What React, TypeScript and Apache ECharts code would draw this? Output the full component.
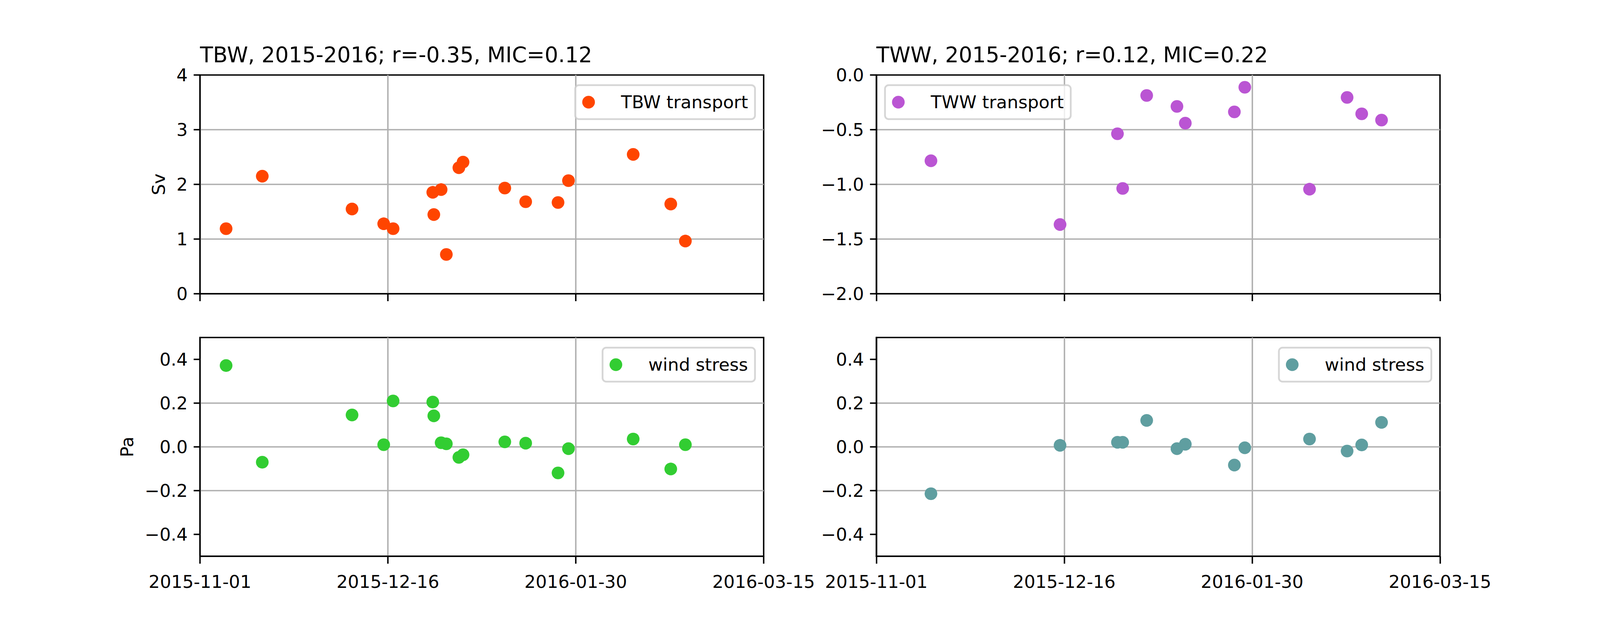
import { useRef, useEffect } from "react";
import * as echarts from "echarts";

// TBW (left column): transport and wind stress share the same dates
const tbwDates = [
  "2015-11-07 06:00", "2015-11-15 22:00", "2015-12-07 10:00", "2015-12-15 00:00",
  "2015-12-17 06:00", "2015-12-26 18:00", "2015-12-27 00:00", "2015-12-28 18:00",
  "2015-12-30 00:00", "2016-01-02 00:00", "2016-01-03 00:00", "2016-01-13 00:00",
  "2016-01-18 00:00", "2016-01-25 18:00", "2016-01-28 06:00", "2016-02-12 18:00",
  "2016-02-21 18:00", "2016-02-25 06:00",
];
const tbwTransport = [
  1.19, 2.15, 1.55, 1.28, 1.19, 1.855, 1.448, 1.905, 0.719,
  2.305, 2.407, 1.933, 1.683, 1.669, 2.069, 2.548, 1.641, 0.964,
];
const tbwWind = [
  0.372, -0.07, 0.146, 0.01, 0.21, 0.205, 0.142, 0.019, 0.014,
  -0.048, -0.036, 0.023, 0.017, -0.119, -0.008, 0.036, -0.101, 0.01,
];

// TWW (right column)
const twwDates = [
  "2015-11-14 02:00", "2015-12-15 00:00", "2015-12-28 18:00", "2015-12-30 00:00",
  "2016-01-04 18:00", "2016-01-12 00:00", "2016-01-14 00:00", "2016-01-25 18:00",
  "2016-01-28 06:00", "2016-02-12 18:00", "2016-02-21 18:00", "2016-02-25 06:00",
  "2016-03-01 00:00",
];
const twwTransport = [
  -0.784, -1.367, -0.537, -1.037, -0.187, -0.287, -0.44,
  -0.337, -0.112, -1.044, -0.205, -0.355, -0.412,
];
const twwWind = [
  -0.214, 0.007, 0.021, 0.021, 0.121, -0.008, 0.012,
  -0.083, -0.004, 0.036, -0.019, 0.009, 0.112,
];

const xStart = "2015-11-01 00:00";
const xEnd = "2016-03-15 00:00";
const xStepDays = 45;
const windTicks = [-0.4, -0.2, 0, 0.2, 0.4];

const titles = ["TBW, 2015-2016; r=-0.35, MIC=0.12", "TWW, 2015-2016; r=0.12, MIC=0.22"];

const FONT = "DejaVu Sans";
const DAY = 86400000;
// layout designed on a 4800x1600 canvas, scaled to the real container
const REF_W = 4800;
const REF_H = 1600;

function toTs(s: string) {
  return Date.parse(s.replace(" ", "T") + ":00Z");
}

function fmtDate(v: number) {
  return new Date(v).toISOString().slice(0, 10);
}

function fmtNum(v: number, digits: number) {
  if (Math.abs(v) < 1e-9) return (0).toFixed(digits);
  return v.toFixed(digits).replace("-", "\u2212");
}

const grids = [
  { left: 600, top: 192 },
  { left: 2629, top: 192 },
  { left: 600, top: 864 },
  { left: 2629, top: 864 },
];

export default function App() {
  const chartRef = useRef<HTMLDivElement>(null);

  useEffect(() => {
    document.body.style.margin = "0";
    const el = chartRef.current;
    if (!el) return;
    const W = el.clientWidth || REF_W;
    const H = el.clientHeight || REF_H;
    const sx = W / REF_W;
    const sy = H / REF_H;
    const X = (v: number) => v * sx;
    const Y = (v: number) => v * sy;

    const chart = echarts.init(el, undefined, { renderer: "svg" });

    const tMin = toTs(xStart);
    const tMax = toTs(xEnd);
    const LW = X(4.3);
    const fs = X(53);
    const titleFs = X(64);

    const labelStyle = { color: "#000", fontSize: fs, fontFamily: FONT };
    const splitStyle = { color: "#b0b0b0", width: LW };
    const tickStyle = { color: "#000", width: LW };

    const xAxis = grids.map((_, i) => ({
      type: "value",
      gridIndex: i,
      min: tMin,
      max: tMax,
      interval: xStepDays * DAY,
      axisLine: { show: true, onZero: false, lineStyle: tickStyle },
      axisTick: { show: true, length: Y(19), lineStyle: tickStyle },
      axisLabel: {
        show: i >= 2,
        margin: Y(81) - 0.846 * fs,
        formatter: (v: number) => fmtDate(v),
        showMinLabel: true,
        showMaxLabel: true,
        ...labelStyle,
      },
      splitLine: { show: true, showMinLine: false, showMaxLine: false, lineStyle: splitStyle },
    }));

    const yBase = (i: number) => ({
      type: "value",
      gridIndex: i,
      axisLine: { show: true, onZero: false, lineStyle: tickStyle },
      axisTick: { show: true, length: X(19), lineStyle: tickStyle },
      splitLine: { show: true, showMinLine: false, showMaxLine: false, lineStyle: splitStyle },
      nameLocation: "middle",
      nameMoveOverlap: false,
      nameTextStyle: labelStyle,
    });

    const yAxis = [
      {
        ...yBase(0),
        min: 0,
        max: 4,
        interval: 1,
        name: "Sv",
        nameGap: X(97),
        axisLabel: { margin: X(37), formatter: (v: number) => String(v), ...labelStyle },
      },
      {
        ...yBase(1),
        min: -2,
        max: 0,
        interval: 0.5,
        axisLabel: { margin: X(37), formatter: (v: number) => fmtNum(v, 1), ...labelStyle },
      },
      ...[2, 3].map((i) => ({
        ...yBase(i),
        min: -0.5,
        max: 0.5,
        splitNumber: 5,
        name: i === 2 ? "Pa" : "",
        nameGap: X(192),
        axisTick: { show: true, length: X(19), customValues: windTicks, lineStyle: tickStyle },
        axisLabel: { margin: X(37), customValues: windTicks, formatter: (v: number) => fmtNum(v, 1), ...labelStyle },
      })),
    ];

    const mkSeries = (name: string, idx: number, dates: string[], vals: number[], color: string) => ({
      name,
      type: "scatter",
      xAxisIndex: idx,
      yAxisIndex: idx,
      symbol: "circle",
      symbolSize: X(38),
      itemStyle: { color, opacity: 1 },
      data: dates.map((d, k) => [toTs(d), vals[k]]),
    });

    const legendBase = {
      orient: "horizontal",
      selectedMode: false,
      icon: "circle",
      itemWidth: X(107),
      itemHeight: X(38),
      padding: [Y(21), X(21), Y(21), X(21)],
      backgroundColor: "rgba(255,255,255,0.8)",
      borderColor: "rgba(204,204,204,0.8)",
      borderWidth: X(5.3),
      borderRadius: X(11),
      formatter: (name: string) => `{t|${name.split("|")[0]}}`,
      textStyle: {
        rich: {
          t: { padding: [0, 0, 0, X(38)], fontSize: fs, fontFamily: FONT, color: "#000", lineHeight: Y(60) },
        },
      },
    };

    chart.setOption({
      animation: false,
      backgroundColor: "#fff",
      textStyle: { fontFamily: FONT },
      title: titles.map((t, i) => ({
        text: t,
        left: X(grids[i].left),
        top: Y(159) - 0.846 * titleFs,
        padding: 0,
        textStyle: { color: "#000", fontSize: titleFs, fontWeight: "normal", fontFamily: FONT },
      })),
      grid: grids.map((g) => ({
        left: X(g.left),
        top: Y(g.top),
        width: X(1691),
        height: Y(560),
        show: true,
        borderColor: "#000",
        borderWidth: LW,
        outerBoundsMode: "none",
        containLabel: false,
      })),
      legend: [
        { ...legendBase, data: ["TBW transport"], right: W - X(2265), top: Y(218) },
        { ...legendBase, data: ["TWW transport"], left: X(2655), top: Y(218) },
        { ...legendBase, data: ["wind stress|TBW"], right: W - X(2265), top: Y(890) },
        { ...legendBase, data: ["wind stress|TWW"], right: W - X(4294), top: Y(890) },
      ],
      xAxis,
      yAxis,
      series: [
        mkSeries("TBW transport", 0, tbwDates, tbwTransport, "#ff4500"),
        mkSeries("TWW transport", 1, twwDates, twwTransport, "#ba55d3"),
        mkSeries("wind stress|TBW", 2, tbwDates, tbwWind, "#32cd32"),
        mkSeries("wind stress|TWW", 3, twwDates, twwWind, "#5f9ea0"),
      ],
    } as any);

    return () => chart.dispose();
  }, []);

  return <div ref={chartRef} style={{ width: "100%", height: "100vh" }} />;
}
